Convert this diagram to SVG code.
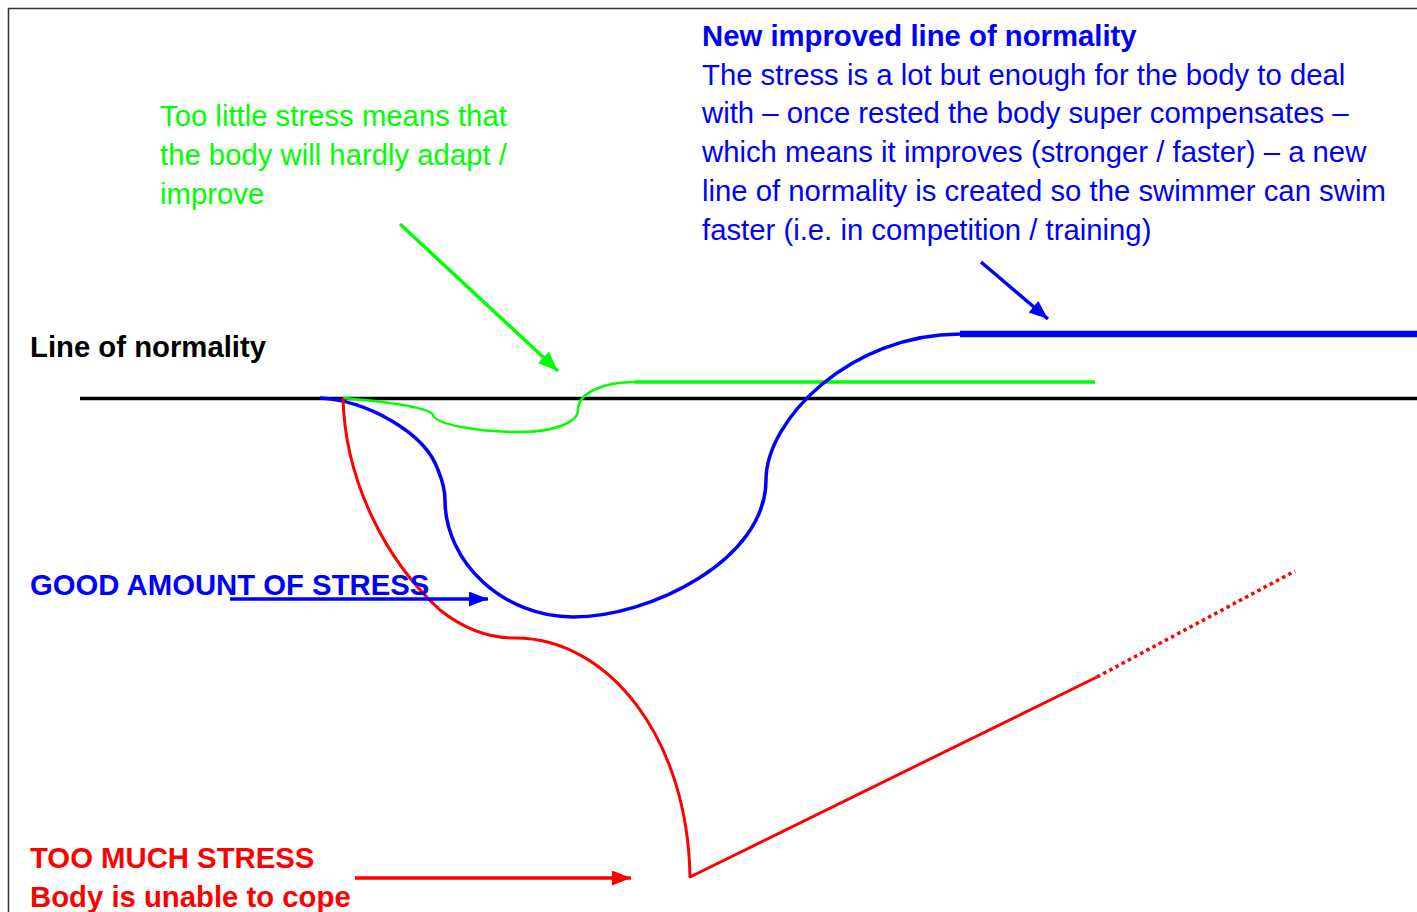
<svg xmlns="http://www.w3.org/2000/svg" width="1417" height="912" viewBox="0 0 1417 912">
<style>
  text { font-family: "Liberation Sans", Arial, sans-serif; font-size: 29.3px; }
  .b { font-weight: bold; }
  .blue { fill: #0000ff; }
  .green { fill: #00ff00; }
  .red { fill: #ff0000; }
  .black { fill: #000000; }
  .curve { fill: none; stroke-linejoin: round; }
</style>
<defs>
  <marker id="ahG" markerUnits="userSpaceOnUse" markerWidth="22" markerHeight="18" refX="20" refY="8" orient="auto"><path d="M0,0 L20,8 L0,16 Z" fill="#00ff00"/></marker>
  <marker id="ahB" markerUnits="userSpaceOnUse" markerWidth="22" markerHeight="18" refX="19" refY="7.5" orient="auto"><path d="M0,0 L19,7.5 L0,15 Z" fill="#0000ff"/></marker>
  <marker id="ahR" markerUnits="userSpaceOnUse" markerWidth="22" markerHeight="18" refX="19" refY="7.5" orient="auto"><path d="M0,0 L19,7.5 L0,15 Z" fill="#ff0000"/></marker>
</defs>
<rect x="0" y="0" width="1417" height="912" fill="#ffffff"/>
<path d="M8.5,912 L8.5,8.5 L1417,8.5" fill="none" stroke="#333333" stroke-width="1.5"/>

<g id="curves">
  <line id="normality-line" x1="80" y1="398.5" x2="1417" y2="398.5" stroke="#000000" stroke-width="3.5"/>
  <line id="new-normality-line" x1="960" y1="334" x2="1417" y2="334" stroke="#0000ff" stroke-width="6.5"/>
  <line id="green-plateau" x1="635" y1="382" x2="1095" y2="382" stroke="#00ff00" stroke-width="3.5"/>
  <path id="green-curve" class="curve" d="M343,398 C390,402 430,408 433,415 C436,425 480,432 520,432 C555,432 578,422 578,410 C578,392 605,382 635,382" stroke="#00ff00" stroke-width="2.5"/>
  <path id="blue-curve" class="curve" d="M320,398 C365,400 425,432 438,470 C443,482 445,490 445,500 C445,562 503,617 573,617 C650,617 766,560 766,480 C766,420 850,334 960,334" stroke="#0000ff" stroke-width="3.5"/>
  <path id="red-curve" class="curve" d="M343,398 C345,480 385,560 440,610 C465,630 490,638 515,638 C610,638 688,740 690,877 L1097,677" stroke="#ff0000" stroke-width="3"/>
  <line id="red-dotted" x1="1097" y1="677" x2="1295" y2="571" stroke="#ff0000" stroke-width="3.5" stroke-dasharray="3.5 3.5"/>
</g>

<g id="connectors">
  <line x1="400" y1="224" x2="558" y2="371" stroke="#00ff00" stroke-width="3.5" marker-end="url(#ahG)"/>
  <line x1="981" y1="262" x2="1048" y2="319" stroke="#0000ff" stroke-width="3.5" marker-end="url(#ahB)"/>
  <line x1="230" y1="599" x2="488" y2="599" stroke="#0000ff" stroke-width="3.5" marker-end="url(#ahB)"/>
  <line x1="355" y1="878" x2="631" y2="878" stroke="#ff0000" stroke-width="3.5" marker-end="url(#ahR)"/>
</g>

<g id="label-too-little">
  <text class="green" x="160" y="126">Too little stress means that</text>
  <text class="green" x="160" y="165">the body will hardly adapt /</text>
  <text class="green" x="160" y="204">improve</text>
</g>

<g id="label-new-improved">
  <text class="blue b" x="702" y="46">New improved line of normality</text>
  <text class="blue" x="702" y="84.5">The stress is a lot but enough for the body to deal</text>
  <text class="blue" x="702" y="123.3">with – once rested the body super compensates –</text>
  <text class="blue" x="702" y="162.1">which means it improves (stronger / faster) – a new</text>
  <text class="blue" x="702" y="200.9">line of normality is created so the swimmer can swim</text>
  <text class="blue" x="702" y="239.7">faster (i.e. in competition / training)</text>
</g>

<g id="label-line-of-normality">
  <text class="black b" x="30" y="357">Line of normality</text>
</g>

<g id="label-good-amount">
  <text class="blue b" x="30" y="595">GOOD AMOUNT OF STRESS</text>
</g>

<g id="label-too-much">
  <text class="red b" x="30" y="868">TOO MUCH STRESS</text>
  <text class="red b" x="30" y="906.5">Body is unable to cope</text>
</g>
</svg>
